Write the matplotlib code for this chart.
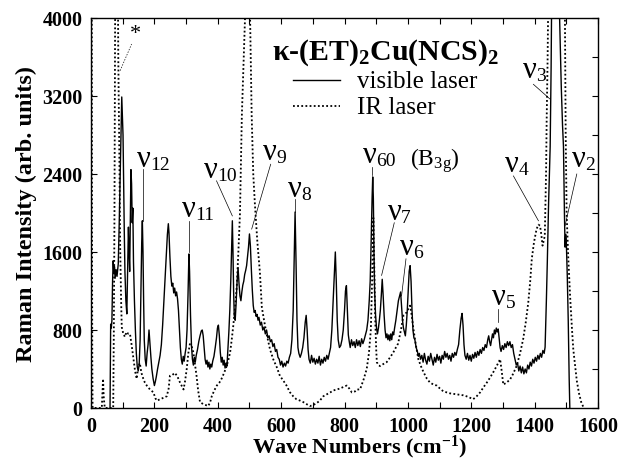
import matplotlib.pyplot as plt
import numpy as np
from matplotlib.ticker import MultipleLocator

plt.rcParams['font.family'] = 'Liberation Serif'
plt.rcParams['mathtext.fontset'] = 'custom'
plt.rcParams['mathtext.rm'] = 'Liberation Serif'
plt.rcParams['mathtext.it'] = 'Liberation Serif:italic'
plt.rcParams['mathtext.bf'] = 'Liberation Serif:bold'

# visible laser spectrum: (wave number, intensity)
visible = [
    (60, 0), (61, 450), (62, 860), (64, 820), (66, 900), (68, 1300), (70, 1510), (72, 1380),
    (74, 1450), (76, 1330), (79, 1420), (82, 1350), (86, 1480), (89, 1900), (92, 2400),
    (95, 2900), (97, 3190), (99, 3000), (101, 2800), (103, 2300), (105, 1800), (107, 1400),
    (110, 1100), (113, 965), (115, 1300), (118, 1855), (120, 1600), (122, 1400), (124, 1900),
    (126, 2445), (128, 2300), (130, 1900), (132, 2050), (134, 1500), (137, 1100), (140, 800),
    (143, 560), (146, 420), (149, 380), (152, 450), (155, 700), (158, 1300), (160, 1700),
    (162, 1920), (164, 1600), (166, 1100), (168, 700), (171, 500), (174, 430), (177, 560),
    (180, 650), (183, 800), (186, 660), (189, 520), (192, 400), (196, 300), (200, 230),
    (203, 270), (206, 320), (210, 400), (214, 470), (218, 540), (222, 650), (226, 850),
    (230, 1100), (234, 1350), (238, 1600), (241, 1780), (244, 1890), (246, 1800), (249, 1550),
    (252, 1350), (255, 1250), (258, 1280), (261, 1180), (264, 1230), (267, 1150), (270, 1190),
    (273, 1120), (276, 1000), (279, 800), (282, 620), (285, 500), (288, 450), (291, 530),
    (294, 480), (297, 560), (300, 620), (303, 800), (306, 1150), (309, 1580), (311, 1400),
    (314, 950), (317, 640), (320, 500), (323, 440), (326, 520), (329, 470), (332, 540),
    (336, 600), (340, 680), (344, 740), (348, 790), (351, 800), (354, 740), (357, 620),
    (360, 500), (363, 450), (366, 490), (369, 420), (372, 470), (375, 400), (378, 450),
    (381, 420), (384, 480), (388, 530), (392, 620), (396, 720), (399, 820), (402, 850),
    (405, 740), (408, 570), (411, 470), (414, 520), (417, 440), (420, 490), (423, 410),
    (426, 460), (429, 430), (432, 600), (435, 780), (438, 1000), (441, 1300), (444, 1650),
    (446, 1920), (448, 1600), (450, 1200), (452, 950), (455, 900), (458, 1080), (461, 1300),
    (464, 1440), (467, 1280), (470, 1150), (473, 1100), (476, 1190), (479, 1260), (482, 1300),
    (485, 1370), (488, 1410), (491, 1460), (494, 1560), (497, 1650), (500, 1785), (503, 1660),
    (506, 1420), (509, 1210), (512, 1050), (515, 980), (518, 1000), (521, 940), (524, 960),
    (527, 900), (530, 930), (534, 850), (538, 880), (542, 800), (546, 830), (550, 760),
    (554, 800), (558, 720), (562, 740), (566, 680), (570, 700), (574, 630), (578, 660),
    (582, 580), (586, 600), (590, 520), (594, 500), (598, 440), (602, 480), (606, 420),
    (610, 460), (614, 430), (618, 480), (622, 460), (626, 520), (630, 560), (634, 700),
    (638, 1000), (641, 1500), (644, 2010), (647, 1500), (650, 900), (653, 620), (656, 560),
    (660, 520), (664, 560), (668, 620), (672, 720), (676, 880), (679, 950), (682, 800),
    (685, 600), (688, 500), (692, 460), (696, 540), (700, 470), (704, 510), (708, 450),
    (712, 500), (716, 460), (720, 530), (724, 440), (728, 500), (732, 460), (736, 520),
    (740, 480), (744, 540), (748, 500), (752, 560), (756, 620), (760, 800), (764, 1100),
    (768, 1400), (771, 1600), (774, 1300), (777, 900), (780, 700), (784, 620), (788, 640),
    (792, 700), (796, 800), (800, 1000), (803, 1200), (806, 1255), (809, 1000), (812, 750),
    (815, 680), (818, 620), (822, 700), (826, 640), (830, 680), (834, 620), (838, 700),
    (842, 640), (846, 690), (850, 630), (854, 710), (858, 660), (862, 700), (866, 750),
    (870, 800), (874, 900), (878, 1100), (881, 1300), (884, 1700), (887, 2150), (889, 2370),
    (891, 2150), (893, 1600), (895, 1200), (898, 950), (901, 820), (904, 760), (907, 820),
    (910, 900), (913, 1000), (916, 1150), (919, 1320), (922, 1150), (925, 950), (928, 800),
    (931, 720), (934, 760), (937, 700), (940, 750), (943, 690), (946, 760), (949, 700),
    (952, 780), (955, 750), (958, 820), (962, 900), (966, 1000), (970, 1100), (974, 1150),
    (977, 1190), (980, 1050), (983, 900), (986, 820), (989, 780), (992, 740), (995, 850),
    (998, 1000), (1001, 1200), (1004, 1400), (1007, 1460), (1010, 1300), (1013, 1000),
    (1016, 800), (1019, 720), (1022, 700), (1026, 620), (1030, 580), (1033, 530), (1036, 560),
    (1040, 500), (1044, 540), (1048, 470), (1052, 560), (1056, 490), (1060, 450), (1064, 530),
    (1068, 480), (1072, 560), (1076, 500), (1080, 440), (1084, 520), (1088, 470), (1092, 550),
    (1096, 490), (1100, 530), (1104, 460), (1108, 540), (1112, 500), (1116, 580), (1120, 520),
    (1124, 560), (1128, 500), (1132, 540), (1136, 480), (1140, 560), (1144, 520), (1148, 570),
    (1152, 540), (1156, 600), (1160, 650), (1164, 800), (1168, 920), (1171, 970), (1174, 850),
    (1177, 650), (1180, 540), (1184, 500), (1188, 560), (1192, 490), (1196, 540), (1200, 480),
    (1204, 550), (1208, 510), (1212, 570), (1216, 520), (1220, 580), (1224, 540), (1228, 600),
    (1232, 560), (1236, 620), (1240, 590), (1244, 650), (1248, 620), (1252, 700), (1255, 740),
    (1258, 680), (1261, 640), (1264, 700), (1267, 760), (1270, 720), (1273, 800), (1276, 760),
    (1279, 820), (1282, 780), (1285, 810), (1288, 720), (1291, 620), (1294, 580), (1298, 640),
    (1302, 600), (1306, 660), (1310, 620), (1314, 680), (1318, 640), (1322, 680), (1326, 620),
    (1330, 650), (1334, 560), (1338, 500), (1342, 440), (1346, 460), (1350, 380), (1354, 430),
    (1358, 360), (1362, 420), (1366, 350), (1370, 400), (1374, 360), (1378, 440), (1382, 400),
    (1386, 470), (1390, 430), (1394, 500), (1398, 460), (1402, 520), (1406, 480), (1410, 540),
    (1414, 500), (1418, 560), (1422, 520), (1426, 590), (1430, 560), (1433, 625), (1437, 1100),
    (1440, 1500), (1444, 2100), (1449, 2680), (1452, 3500), (1454, 4300), (1460, 7000),
    (1468, 9000), (1474, 6000), (1478, 4100), (1484, 3300), (1488, 2900), (1491, 2680),
    (1494, 2000), (1496, 1650), (1498, 1780), (1500, 1700), (1503, 1350), (1506, 900),
    (1509, 300), (1511, 0),
]

# IR laser spectrum: (wave number, intensity)
infrared = [
    (0, 9000), (2, 5000), (3, 2000), (4, 500), (5, 0), (34, 0), (36, 150), (38, 300), (40, 120),
    (42, 40), (44, 0), (70, 0), (72, 800), (74, 2000), (76, 4000), (80, 7000), (84, 4800),
    (86, 3600), (88, 3000), (90, 2400), (92, 1650), (95, 1100), (97, 830), (102, 760),
    (107, 730), (112, 780), (118, 760), (123, 760), (128, 650), (134, 500), (139, 380),
    (144, 300), (149, 420), (154, 460), (159, 360), (165, 300), (170, 260), (176, 230),
    (186, 190), (197, 160), (203, 100), (208, 75), (218, 90), (229, 105), (239, 120),
    (245, 200), (249, 330), (257, 340), (265, 360), (273, 320), (281, 260), (292, 190),
    (297, 280), (302, 400), (307, 560), (312, 655), (317, 640), (323, 570), (328, 450),
    (333, 330), (338, 180), (344, 60), (354, 40), (362, 30), (370, 20), (376, 60), (381, 120),
    (389, 180), (397, 230), (405, 260), (412, 300), (420, 360), (428, 430), (434, 500),
    (439, 570), (444, 700), (449, 845), (455, 1050), (460, 1250), (465, 1600), (470, 1990),
    (476, 3000), (486, 4000), (494, 6500), (502, 4000), (507, 3000), (512, 2400), (517, 2100),
    (525, 1700), (533, 1390), (539, 1035), (546, 900), (554, 760), (565, 600), (575, 500),
    (586, 420), (596, 330), (607, 280), (617, 230), (628, 160), (638, 120), (648, 90),
    (660, 75), (670, 60), (680, 40), (691, 20), (701, 30), (712, 50), (722, 75), (733, 120),
    (744, 140), (755, 160), (765, 180), (775, 190), (786, 200), (796, 215), (807, 230),
    (815, 200), (823, 160), (833, 170), (839, 190), (849, 190), (860, 290), (870, 400),
    (877, 560), (883, 800), (887, 1300), (891, 1950), (894, 1400), (897, 900), (900, 600),
    (902, 470), (907, 440), (912, 430), (922, 450), (933, 470), (944, 520), (954, 570),
    (962, 620), (969, 660), (978, 800), (986, 950), (996, 980), (1002, 1020), (1007, 1050),
    (1012, 950), (1017, 820), (1025, 650), (1033, 500), (1041, 430), (1049, 370), (1060, 300),
    (1070, 260), (1081, 240), (1091, 230), (1101, 200), (1112, 170), (1122, 160), (1133, 150),
    (1144, 145), (1154, 140), (1164, 135), (1175, 130), (1185, 120), (1196, 105), (1206, 90),
    (1217, 120), (1228, 160), (1238, 210), (1249, 260), (1259, 310), (1270, 370), (1280, 430),
    (1291, 500), (1296, 380), (1301, 240), (1311, 260), (1322, 290), (1332, 350), (1343, 430),
    (1354, 560), (1364, 710), (1372, 880), (1380, 1085), (1386, 1300), (1391, 1530),
    (1398, 1700), (1406, 1835), (1412, 1880), (1417, 1870), (1421, 1780), (1425, 1665),
    (1429, 1720), (1432, 1765), (1436, 2400), (1438, 2965), (1441, 3600), (1443, 4200),
    (1460, 8000), (1480, 8000), (1495, 4300), (1498, 2800), (1501, 1990), (1506, 1550),
    (1512, 1140), (1518, 800), (1522, 600), (1528, 420), (1533, 280), (1540, 150), (1547, 60),
    (1555, 0),
]

# mode labels: subscript, text position (baseline), leader line start, leader line end
modes = [
    ('12', (145, 2482), (165, 2450), (165, 1920)),
    ('11', (287, 1969), (309, 1920), (309, 1600)),
    ('10', (357, 2369), (396, 2330), (446, 1970)),
    ('9', (543, 2554), (567, 2500), (507, 1835)),
    ('8', (622, 2174), (643, 2140), (643, 2010)),
    ('60', (858, 2523), (886, 2470), (886, 2390)),
    ('7', (937, 1938), (957, 1900), (917, 1360)),
    ('6', (975, 1580), (994, 1530), (980, 1150)),
    ('5', (1266, 1067), (1285, 1015), (1285, 880)),
    ('4', (1307, 2430), (1333, 2380), (1412, 1920)),
    ('3', (1363, 3395), (1396, 3320), (1448, 3170)),
    ('2', (1518, 2482), (1533, 2400), (1496, 1870)),
]

vis = np.array(visible)
ir = np.array(infrared)

fig = plt.figure(figsize=(6.23, 4.6), dpi=100)
ax = fig.add_axes([0.1461, 0.1109, 0.8138, 0.8478])

ax.plot(vis[:, 0], vis[:, 1], color='black', lw=1.0)
ax.plot(ir[:, 0], ir[:, 1], color='black', lw=1.3, linestyle=(0, (1, 1.3)))

ax.set_xlim(0, 1600)
ax.set_ylim(0, 4000)
ax.xaxis.set_major_locator(MultipleLocator(200))
ax.xaxis.set_minor_locator(MultipleLocator(100))
ax.yaxis.set_major_locator(MultipleLocator(800))
ax.yaxis.set_minor_locator(MultipleLocator(400))
ax.tick_params(which='both', direction='in', top=True, right=True, length=4, width=0.8)
ax.tick_params(which='minor', left=False)
ax.tick_params(axis='x', pad=6)
ax.tick_params(axis='y', pad=6)
for lab in ax.get_xticklabels() + ax.get_yticklabels():
    lab.set_fontsize(14.5)
    lab.set_fontweight('bold')
for sp in ax.spines.values():
    sp.set_linewidth(1.0)

ax.set_xlabel('Wave Numbers (cm$^{\\mathbf{-1}}$)', fontsize=16, fontweight='bold')
ax.xaxis.set_label_coords(0.53, -0.064)
ax.set_ylabel('Raman Intensity (arb. units)', fontsize=17.5, fontweight='bold', labelpad=4)

# mode labels with leader lines
for sub, (tx, ty), p0, p1 in modes:
    ax.plot([p0[0], p1[0]], [p0[1], p1[1]], color='black', lw=0.5)
    ax.text(tx, ty, 'ν', fontsize=22, va='baseline')
    ax.annotate(sub, xy=(tx, ty), xytext=(9.5, -2), textcoords='offset points',
                fontsize=14, va='baseline')

ax.text(1007, 2500, '(B$_{\\mathrm{3g}}$)', fontsize=17, va='baseline')

# asterisk on the IR feature
ax.plot([92, 128], [3460, 3733], color='black', lw=0.5, linestyle=(0, (2, 2)))
ax.text(139, 3836, '*', fontsize=16, ha='center', va='center')

# title and legend
ax.text(571, 3580, 'κ-(ET)$_\\mathbf{2}$Cu(NCS)$_\\mathbf{2}$', fontsize=21.5,
        fontweight='bold', va='baseline')
ax.plot([637, 786], [3364, 3364], color='black', lw=1.0)
ax.plot([637, 786], [3097, 3097], color='black', lw=1.3, linestyle=(0, (1, 1.3)))
ax.text(839, 3292, 'visible laser', fontsize=18, va='baseline')
ax.text(839, 3025, 'IR laser', fontsize=18, va='baseline')

fig.savefig('out.png', dpi=100, facecolor='white')
